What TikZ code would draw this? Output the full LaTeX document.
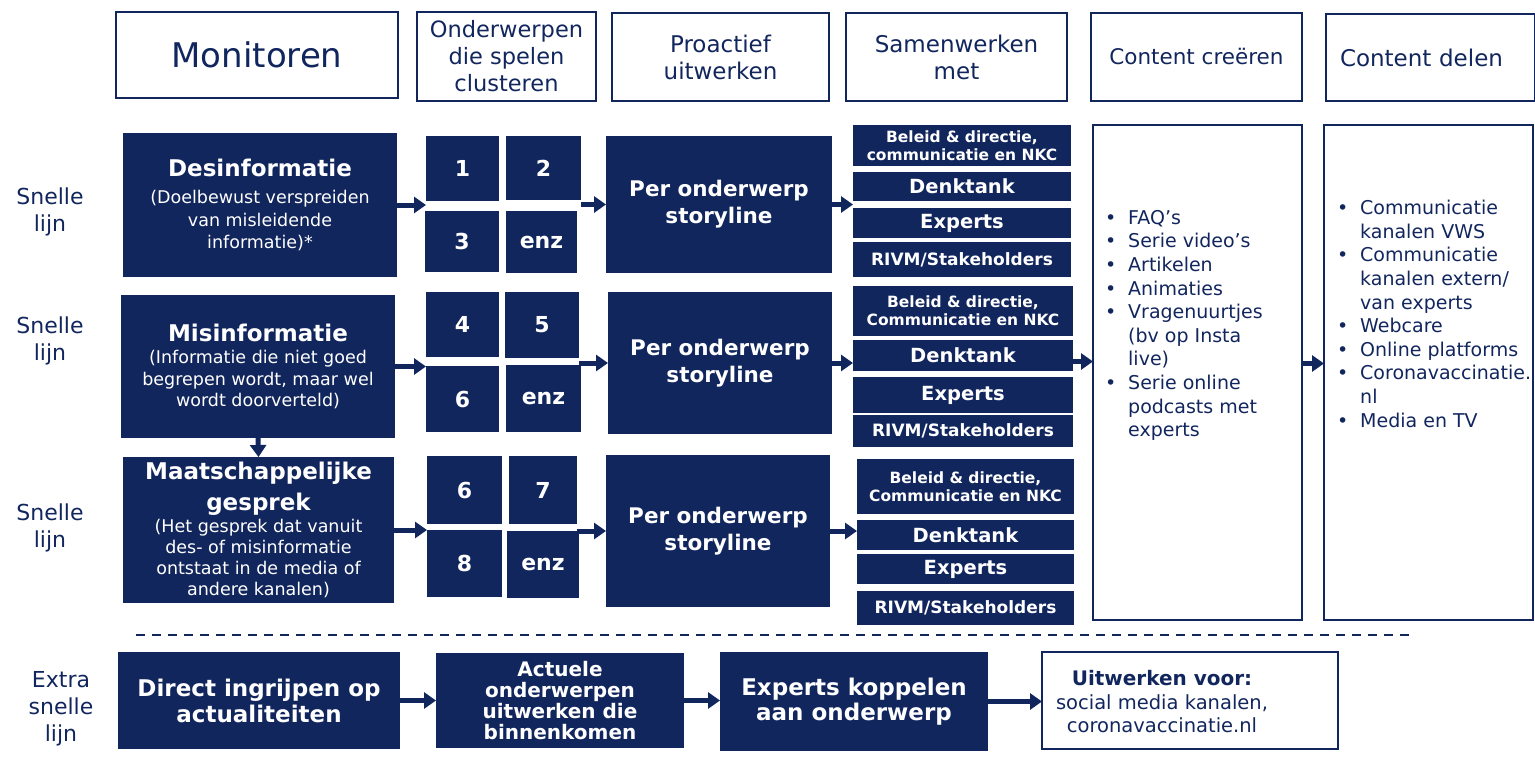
\documentclass[tikz,border=0pt]{standalone}
\usepackage{fontspec}
\setmainfont{DejaVu Sans}
\usepackage{tikz}
\usetikzlibrary{arrows.meta,calc}

\definecolor{navy}{HTML}{12265E}

\tikzset{
  sz/.style 2 args={minimum width=#1pt, minimum height=#2pt},
  hdr/.style={draw=navy, line width=1.5pt, text=navy, align=center, anchor=north west,
    inner sep=0pt, outer sep=0pt, font=\fontsize{23}{27}\selectfont},
  blk/.style={fill=navy, text=white, align=center, anchor=north west, inner sep=0pt, outer sep=0pt},
  numbox/.style={blk, font=\bfseries\fontsize{22}{26}\selectfont},
  storybox/.style={blk, font=\bfseries\fontsize{21.5}{27}\selectfont},
  partner/.style={blk, font=\bfseries\fontsize{19.5}{22}\selectfont},
  partnersmall/.style={blk, font=\bfseries\fontsize{15.5}{18}\selectfont},
  rivm/.style={blk, font=\bfseries\fontsize{17}{18}\selectfont},
  lbl/.style={text=navy, align=center, font=\fontsize{22}{27}\selectfont},
  listtxt/.style={text=navy, align=left, anchor=north west, inner sep=0pt, font=\fontsize{19}{23.6}\selectfont},
  arr/.style={navy, line width=5pt, -{Triangle[length=12pt,width=16pt]}},
}
\newcommand{\bul}{\makebox[23pt][l]{•}}
\newcommand{\ind}{\hspace*{23pt}}

\begin{document}
\begin{tikzpicture}[x=1pt,y=1pt,yscale=-1,xscale=1]
\useasboundingbox (0,0) rectangle (1535,760);

% kolomkoppen
\node[hdr, sz={282}{86}, font=\fontsize{34}{40}\selectfont] (hmon) at (116,12) {Monitoren};
\node[hdr, sz={179}{89}, font=\fontsize{22.5}{27}\selectfont] (hond) at (417,12) {Onderwerpen\\die spelen\\clusteren};
\node[hdr, sz={217}{88}] (hpro) at (612,13) {Proactief\\uitwerken};
\node[hdr, sz={221}{88}] (hsam) at (846,13) {Samenwerken\\met};
\node[hdr, sz={211}{88}, font=\fontsize{21.5}{27}\selectfont] (hcc) at (1091,13) {Content creëren};
\node[hdr, sz={209}{87}, inner xsep=14pt, text width=181pt, align=left] (hcd) at (1326,14) {Content delen};

% lijnen
\node[lbl] (l1) at (50,212) {Snelle\\lijn};
\node[lbl] (l2) at (50,341) {Snelle\\lijn};
\node[lbl] (l3) at (50,528) {Snelle\\lijn};
\node[lbl] (l4) at (61,709) {Extra\\snelle\\lijn};

% rij 1
\node[blk, sz={274}{144}, font=\fontsize{17.5}{22.5}\selectfont] (des) at (123,133)
  {{\bfseries\fontsize{23}{28}\selectfont Desinformatie}\\[5pt](Doelbewust verspreiden\\van misleidende\\informatie)*};
\node[numbox, sz={73}{65}] (c1) at (426,136) {1};
\node[numbox, sz={75}{64}] (c2) at (506,136) {2};
\node[numbox, sz={74}{61}] (c3) at (425,211) {3};
\node[numbox, sz={71}{62}] (c4) at (506,211) {enz};
\node[storybox, sz={226}{137}] (st1) at (606,136) {Per onderwerp\\storyline};
\node[partnersmall, sz={218}{41}] (b1) at (853,125) {Beleid \& directie,\\communicatie en NKC};
\node[partner, sz={218}{29}] (dk1) at (853,172) {Denktank};
\node[partner, sz={218}{30}] (ex1) at (853,208) {Experts};
\node[rivm, sz={218}{35}] (rv1) at (853,242) {RIVM/Stakeholders};

% rij 2
\node[blk, sz={274}{143}, font=\fontsize{17.5}{21.5}\selectfont] (mis) at (121,295)
  {{\bfseries\fontsize{23}{28}\selectfont Misinformatie}\\[1pt](Informatie die niet goed\\begrepen wordt, maar wel\\wordt doorverteld)};
\node[numbox, sz={73}{65}] (c5) at (426,292) {4};
\node[numbox, sz={74}{66}] (c6) at (505,292) {5};
\node[numbox, sz={73}{66}] (c7) at (426,366) {6};
\node[numbox, sz={75}{67}] (c8) at (506,365) {enz};
\node[storybox, sz={224}{142}] (st2) at (608,292) {Per onderwerp\\storyline};
\node[partnersmall, sz={220}{50}] (b2) at (853,286) {Beleid \& directie,\\Communicatie en NKC};
\node[partner, sz={220}{31}] (dk2) at (853,340) {Denktank};
\node[partner, sz={220}{36}] (ex2) at (853,377) {Experts};
\node[rivm, sz={220}{32}] (rv2) at (853,415) {RIVM/Stakeholders};

% rij 3
\node[blk, sz={271}{146}, font=\fontsize{17.5}{21}\selectfont] (maat) at (123,457)
  {{\bfseries\fontsize{23}{28}\selectfont Maatschappelijke}\\[7pt]{\bfseries\fontsize{23}{28}\selectfont gesprek}\\[1pt](Het gesprek dat vanuit\\des- of misinformatie\\ontstaat in de media of\\andere kanalen)};
\node[numbox, sz={75}{68}] (c9) at (427,456) {6};
\node[numbox, sz={68}{68}] (c10) at (509,456) {7};
\node[numbox, sz={75}{67}] (c11) at (427,530) {8};
\node[numbox, sz={72}{67}] (c12) at (507,531) {enz};
\node[storybox, sz={224}{152}] (st3) at (606,455) {Per onderwerp\\storyline};
\node[partnersmall, sz={217}{55}] (b3) at (857,459) {Beleid \& directie,\\Communicatie en NKC};
\node[partner, sz={217}{30}] (dk3) at (857,520) {Denktank};
\node[partner, sz={217}{30}] (ex3) at (857,554) {Experts};
\node[rivm, sz={217}{34}] (rv3) at (857,591) {RIVM/Stakeholders};

% content
\node[hdr, sz={209}{495}] (cc) at (1093,125) {};
\node[hdr, sz={209}{495}] (cd) at (1324,125) {};
\node[listtxt] (cclist) at (1105,210) {\bul FAQ’s\\\bul Serie video’s\\\bul Artikelen\\\bul Animaties\\\bul Vragenuurtjes\\\ind(bv op Insta\\\ind live)\\\bul Serie online\\\ind podcasts met\\\ind experts};
\node[listtxt] (cdlist) at (1337,200) {\bul Communicatie\\\ind kanalen VWS\\\bul Communicatie\\\ind kanalen extern/\\\ind van experts\\\bul Webcare\\\bul Online platforms\\\bul Coronavaccinatie.\\\ind nl\\\bul Media en TV};

% scheiding
\draw[navy, line width=2pt, dash pattern=on 9pt off 7pt] (136,635) -- (1416,635);

% extra snelle lijn
\node[blk, sz={282}{97}, font=\bfseries\fontsize{23}{26}\selectfont] (direct) at (118,652) {Direct ingrijpen op\\actualiteiten};
\node[blk, sz={248}{95}, font=\bfseries\fontsize{20}{21}\selectfont] (act) at (436,653) {Actuele\\onderwerpen\\uitwerken die\\binnenkomen};
\node[blk, sz={268}{99}, font=\bfseries\fontsize{23}{25}\selectfont] (expk) at (720,652) {Experts koppelen\\aan onderwerp};
\node[hdr, sz={296}{97}] (uitw) at (1042,652) {};
\node[text=navy, align=center, font=\fontsize{19.5}{23.5}\selectfont] (uitwtxt) at (1162,702)
  {{\bfseries\fontsize{20}{23.5}\selectfont Uitwerken voor:}\\social media kanalen,\\coronavaccinatie.nl};

% pijlen
\draw[arr] (des.east) -- (des -| c1.west);
\draw[arr] (st1 -| c2.east) -- (st1.west);
\draw[arr] (st1.east) -- (st1 -| b1.west);
\draw[arr] (mis.east) -- (mis -| c5.west);
\draw[arr] (st2 -| c6.east) -- (st2.west);
\draw[arr] (st2.east) -- (st2 -| b2.west);
\draw[arr] (maat.east) -- (maat -| c9.west);
\draw[arr] (st3 -| c10.east) -- (st3.west);
\draw[arr] (st3.east) -- (st3 -| b3.west);
\draw[arr] (mis.south) -- (maat.north);
\coordinate (dkout) at ($(dk2.east)+(0,6)$);
\draw[arr] (dkout) -- (dkout -| cc.west);
\coordinate (ccout) at ($(cc.east)+(0,-9)$);
\draw[arr] (ccout) -- (ccout -| cd.west);
\draw[arr] (direct.east) -- (direct -| act.west);
\draw[arr] (direct -| act.east) -- (direct -| expk.west);
\draw[arr] (expk.east) -- (expk -| uitw.west);
\end{tikzpicture}
\end{document}
